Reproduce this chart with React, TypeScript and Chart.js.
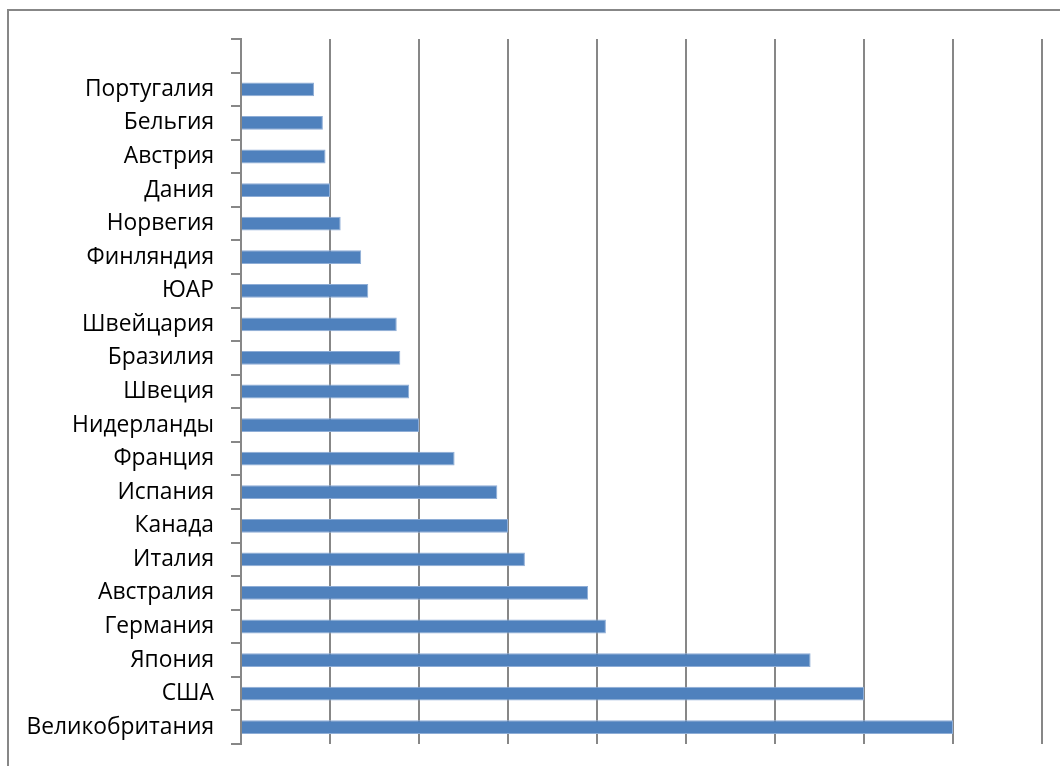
import React, { useEffect, useRef } from "react";
import { Chart, registerables } from "chart.js";

Chart.register(...registerables);

// Countries, top to bottom; the first slot is left empty on purpose
const countries: string[] = [
  "",
  "Португалия",
  "Бельгия",
  "Австрия",
  "Дания",
  "Норвегия",
  "Финляндия",
  "ЮАР",
  "Швейцария",
  "Бразилия",
  "Швеция",
  "Нидерланды",
  "Франция",
  "Испания",
  "Канада",
  "Италия",
  "Австралия",
  "Германия",
  "Япония",
  "США",
  "Великобритания",
];

const values: (number | null)[] = [
  null, 8.2, 9.2, 9.5, 10, 11.2, 13.5, 14.3, 17.5, 17.9, 18.9,
  20, 24, 28.8, 30, 31.9, 39, 41, 64, 70, 80,
];

const axisMin = 0;
const axisMax = 90;
const axisStep = 10;

const GRID = "#878787";
const BAR = "#4F81BD";
const BAR_EDGE = "#8eadd6";

export default function App() {
  const canvasRef = useRef<HTMLCanvasElement | null>(null);

  useEffect(() => {
    const canvas = canvasRef.current;
    if (!canvas) return;
    const chart = new Chart(canvas, {
      type: "bar",
      data: {
        labels: countries,
        datasets: [
          {
            data: values,
            backgroundColor: BAR,
            borderColor: BAR_EDGE,
            borderWidth: 1,
            barPercentage: 0.41,
            categoryPercentage: 1,
          },
        ],
      },
      options: {
        indexAxis: "y",
        animation: false,
        responsive: false,
        maintainAspectRatio: false,
        layout: { padding: { top: 39, right: 18, bottom: 22, left: 0 } },
        plugins: {
          legend: { display: false },
          tooltip: { enabled: false },
        },
        scales: {
          x: {
            min: axisMin,
            max: axisMax,
            afterFit: (scale: any) => {
              scale.height = 0;
              scale.paddingLeft = 0;
              scale.paddingRight = 0;
            },
            ticks: { display: false, stepSize: axisStep },
            grid: { color: GRID, lineWidth: 2, drawTicks: false },
            border: { display: false },
          },
          y: {
            type: "category",
            offset: true,
            afterFit: (scale: any) => {
              scale.width = 241;
              scale.paddingTop = 0;
              scale.paddingBottom = 0;
            },
            ticks: {
              color: "#000",
              padding: 17,
              autoSkip: false,
              font: { family: "'Open Sans'", size: 22.8 },
            },
            grid: {
              drawOnChartArea: false,
              drawTicks: true,
              tickLength: 10,
              color: GRID,
              lineWidth: 2,
            },
            border: { display: true, color: GRID, width: 2 },
          },
        },
      },
    });
    return () => chart.destroy();
  }, []);

  return (
    <div
      style={{
        position: "absolute",
        left: 0,
        top: 0,
        width: 1060,
        height: 766,
        overflow: "hidden",
        background: "#fff",
      }}
    >
      <div
        style={{
          position: "absolute",
          left: 7,
          top: 9,
          width: 1100,
          height: 800,
          border: `2px solid ${GRID}`,
        }}
      />
      <canvas
        ref={canvasRef}
        width={1060}
        height={766}
        style={{ position: "absolute", left: 0, top: 0 }}
      />
    </div>
  );
}
